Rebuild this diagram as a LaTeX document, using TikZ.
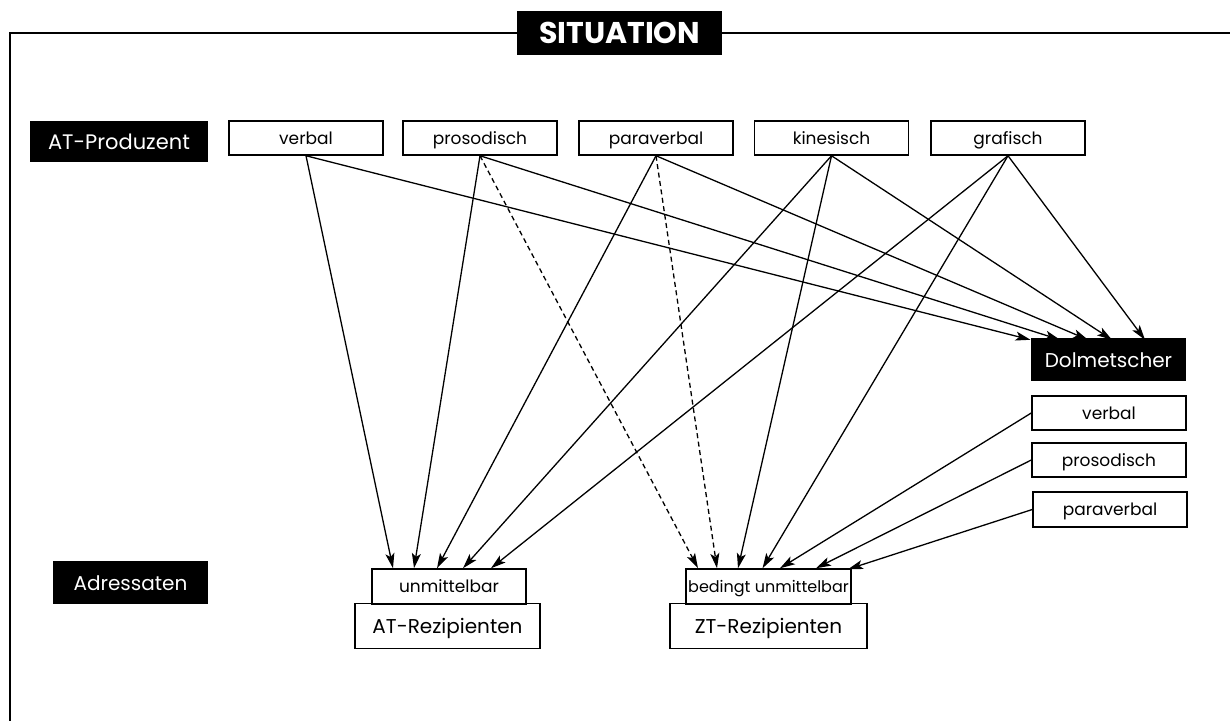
\documentclass[tikz,border=0pt]{standalone}
\usepackage{fontspec}
\setmainfont{Poppins}
\usetikzlibrary{arrows.meta}
\begin{document}
\begin{tikzpicture}[x=1pt,y=-1pt,
  wbox/.style={draw=black,line width=1.5pt,fill=white,inner sep=0pt,text height=12.5pt,text depth=0pt,font=\fontsize{17}{19}\selectfont},
  bigw/.style={wbox,text height=15pt,font=\fontsize{20}{22}\selectfont},
  bbox/.style={fill=black,text=white,inner sep=0pt,text height=15pt,text depth=0pt,font=\fontsize{20}{22}\selectfont},
  conn/.style={line width=1.3pt,-{Stealth[length=15pt,width=9pt,inset=3.5pt]}},
  dconn/.style={conn,dash pattern=on 5pt off 3.5pt}
]
\useasboundingbox (0,0) rectangle (1230,720);
\fill[white] (0,0) rectangle (1230,720);
% frame
\draw[line width=2.6pt] (10,722) -- (10,33) -- (1232,33);
\node[bbox,minimum width=205pt,minimum height=44pt,text height=21pt,font=\fontsize{30}{32}\selectfont\bfseries] (sit) at (619.5,33) {SITUATION};

% left labels
\node[bbox,minimum width=178pt,minimum height=41pt,text height=15.5pt,font=\fontsize{21}{23}\selectfont] (atp) at (119,141.5) {AT-Produzent};
\node[bbox,minimum width=155pt,minimum height=43pt] (adr) at (130.5,582.5) {Adressaten};

% top channels
\node[wbox,minimum width=154pt,minimum height=34pt] (tv) at (306,138) {verbal};
\node[wbox,minimum width=154pt,minimum height=34pt] (tp) at (480,138) {prosodisch};
\node[wbox,minimum width=154pt,minimum height=34pt] (tpa) at (656,138) {paraverbal};
\node[wbox,minimum width=154pt,minimum height=34pt] (tk) at (831.5,138) {kinesisch};
\node[wbox,minimum width=154pt,minimum height=34pt] (tg) at (1008,138) {grafisch};

% interpreter
\node[bbox,minimum width=155pt,minimum height=43pt] (dol) at (1108.5,359.5) {Dolmetscher};
\node[wbox,minimum width=154pt,minimum height=34pt] (rv) at (1109,413) {verbal};
\node[wbox,minimum width=154pt,minimum height=34pt] (rp) at (1109,460) {prosodisch};
\node[wbox,minimum width=154pt,minimum height=35pt] (rpa) at (1110,509.5) {paraverbal};

% recipients
\node[bigw,minimum width=185pt,minimum height=45pt] (atr) at (447.5,626) {AT-Rezipienten};
\node[wbox,minimum width=154pt,minimum height=35pt] (unm) at (449,586.5) {unmittelbar};
\node[bigw,minimum width=197pt,minimum height=45pt] (ztr) at (768.5,626) {ZT-Rezipienten};
\node[wbox,minimum width=165pt,minimum height=35pt,text height=12pt,font=\fontsize{16}{18}\selectfont] (bed) at (768.5,586.5) {bedingt unmittelbar};

% to AT-Rezipienten (unmittelbar)
\draw[conn] (tv.south) -- ([xshift=-56pt]unm.north);
\draw[conn] (tp.south) -- ([xshift=-35pt]unm.north);
\draw[conn] (tpa.south) -- ([xshift=-12pt]unm.north);
\draw[conn] (tk.south) -- ([xshift=14pt]unm.north);
\draw[conn] (tg.south) -- ([xshift=42pt]unm.north);

% to Dolmetscher
\draw[conn] (tv.south) -- ([xshift=-78pt,yshift=-2pt]dol.north);
\draw[conn] (tp.south) -- ([xshift=-48.5pt,yshift=-2pt]dol.north);
\draw[conn] (tpa.south) -- ([xshift=-20.5pt,yshift=-2pt]dol.north);
\draw[conn] (tk.south) -- ([xshift=3.5pt,yshift=-2pt]dol.north);
\draw[conn] (tg.south) -- ([xshift=36.5pt,yshift=-2pt]dol.north);

% to ZT-Rezipienten (bedingt unmittelbar)
\draw[dconn] (tp.south) -- ([xshift=-70.5pt]bed.north);
\draw[dconn] (tpa.south) -- ([xshift=-51.5pt]bed.north);
\draw[conn] (tk.south) -- ([xshift=-30.5pt]bed.north);
\draw[conn] (tg.south) -- ([xshift=-6pt]bed.north);
\draw[conn] (rv.west) -- ([xshift=11.5pt]bed.north);
\draw[conn] (rp.west) -- ([xshift=47.5pt]bed.north);
\draw[conn] (rpa.west) -- ([xshift=79.5pt,yshift=-1pt]bed.north);
\end{tikzpicture}
\end{document}
